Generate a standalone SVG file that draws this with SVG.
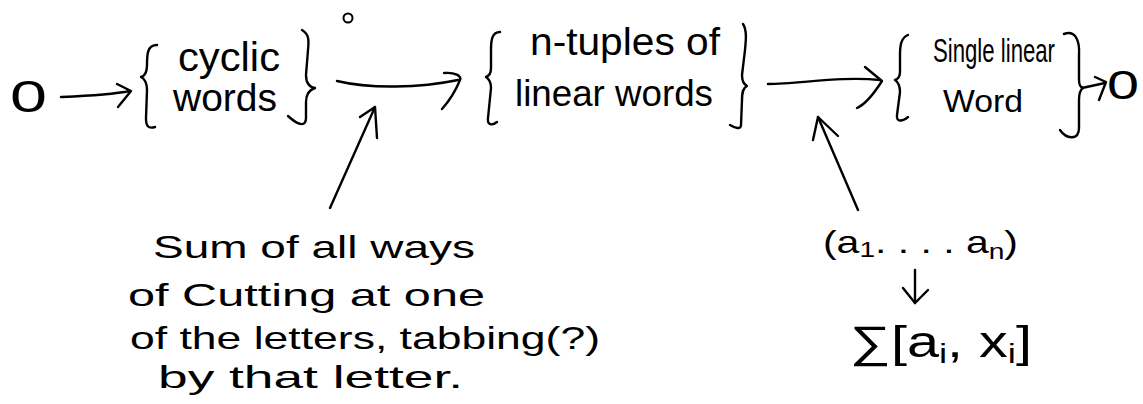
<svg xmlns="http://www.w3.org/2000/svg" width="1143" height="404" viewBox="0 0 1143 404">
  <style>
    .t { font-family: "Liberation Sans", "DejaVu Sans", sans-serif; fill: #000; }
    .ln { fill: none; stroke: #000; stroke-width: 2.4; stroke-linecap: round; stroke-linejoin: round; }
    .br { fill: none; stroke: #000; stroke-width: 2.4; stroke-linecap: round; stroke-linejoin: round; }
  </style>
  <rect x="0" y="0" width="1143" height="404" fill="#fff"/>

  <g id="zero-left">
    <text class="t" x="10" y="112" font-size="44" textLength="37" lengthAdjust="spacingAndGlyphs">0</text>
  </g>

  <g id="cyclic-words">
    <path class="br" d="M157,45 C147,45 147,55 147,65 C147,72 145,76 141,77 C145,79 147,83 147,90 L146,118 C146,126 148,129 155,127"/>
    <text class="t" x="178" y="71" font-size="40" textLength="102" lengthAdjust="spacingAndGlyphs">cyclic</text>
    <text class="t" x="173" y="111" font-size="38" textLength="104" lengthAdjust="spacingAndGlyphs">words</text>
    <path class="br" d="M302,30 C309,34 309,40 308,50 L306,75 C306,82 309,87 315,88 C309,90 306,95 306,102 L306,118 C306,126 300,127 288,116"/>
  </g>

  <g id="map-label">
    <circle cx="348" cy="18" r="4.5" fill="none" stroke="#000" stroke-width="2"/>
  </g>

  <g id="n-tuples">
    <path class="br" d="M500,32 C492,32 491,40 491,50 L491,68 C491,73 489,76 486,77 C489,79 491,82 491,88 L488,118 C487,125 492,126 497,122"/>
    <text class="t" x="530" y="55" font-size="38" textLength="190" lengthAdjust="spacingAndGlyphs">n-tuples of</text>
    <text class="t" x="515" y="106" font-size="36" textLength="198" lengthAdjust="spacingAndGlyphs">linear words</text>
    <path class="br" d="M743,24 C747,30 746,40 745,50 L742,75 C742,80 743,84 747,86 C743,88 742,92 742,100 L741,125 C741,130 735,128 730,125"/>
  </g>

  <g id="single-word">
    <path class="br" d="M908,35 C901,38 900,45 900,55 L900,72 C900,76 898,79 895,80 C898,82 900,85 900,92 L897,115 C896,122 902,122 908,117"/>
    <text class="t" x="933" y="62" font-size="34" textLength="122" lengthAdjust="spacingAndGlyphs">Single linear</text>
    <text class="t" x="943" y="112" font-size="32" textLength="80" lengthAdjust="spacingAndGlyphs">Word</text>
    <path class="br" d="M1064,34 C1075,30 1080,40 1079,55 L1079,80 C1079,85 1080,87 1083,88 C1080,90 1079,93 1079,100 L1079,128 C1079,140 1067,140 1060,130"/>
  </g>

  <g id="zero-right">
    <text class="t" x="1107" y="99" font-size="40" textLength="32" lengthAdjust="spacingAndGlyphs">0</text>
  </g>

  <g id="note-cutting">
    <text class="t" x="153" y="258" font-size="32" textLength="322" lengthAdjust="spacingAndGlyphs">Sum of all ways</text>
    <text class="t" x="128" y="306" font-size="32" textLength="357" lengthAdjust="spacingAndGlyphs">of Cutting at one</text>
    <text class="t" x="130" y="349" font-size="32" textLength="470" lengthAdjust="spacingAndGlyphs">of the letters, tabbing(?)</text>
    <text class="t" x="158" y="388" font-size="32" textLength="305" lengthAdjust="spacingAndGlyphs">by that letter.</text>
  </g>

  <g id="note-tuple">
    <text class="t" x="823" y="253" font-size="32" textLength="195" lengthAdjust="spacingAndGlyphs">(a<tspan font-size="22" dy="4">1</tspan><tspan dy="-4">. . . .  a</tspan><tspan font-size="22" dy="6">n</tspan><tspan dy="-6">)</tspan></text>
    <text class="t" x="850" y="357" font-size="44" textLength="182" lengthAdjust="spacingAndGlyphs">∑[a<tspan font-size="28" dy="6">i</tspan><tspan dy="-6">, x</tspan><tspan font-size="28" dy="6">i</tspan><tspan dy="-6">]</tspan></text>
  </g>

  <g id="connectors">
    <path class="ln" d="M61,97 C85,96 110,95 130,91"/>
    <path class="ln" d="M117,84 L131,91 L118,107"/>

    <path class="ln" d="M337,81 C370,89 420,88 458,80"/>
    <path class="ln" d="M444,73 C455,72 462,76 460,80 C456,90 450,100 442,109"/>

    <path class="ln" d="M768,84 C800,84 840,76 880,80"/>
    <path class="ln" d="M865,67 L882,81 C875,92 866,104 857,108"/>

    <path class="ln" d="M330,208 L375,107"/>
    <path class="ln" d="M360,117 L375,107 L377,138"/>

    <path class="ln" d="M858,210 L818,117"/>
    <path class="ln" d="M813,140 L818,117 L838,136"/>

    <path class="ln" d="M915,270 L915,303"/>
    <path class="ln" d="M903,288 L915,303 L928,290"/>

    <path class="ln" d="M1082,88 L1105,83"/>
    <path class="ln" d="M1095,77 L1106,82 L1099,100"/>
  </g>
</svg>
